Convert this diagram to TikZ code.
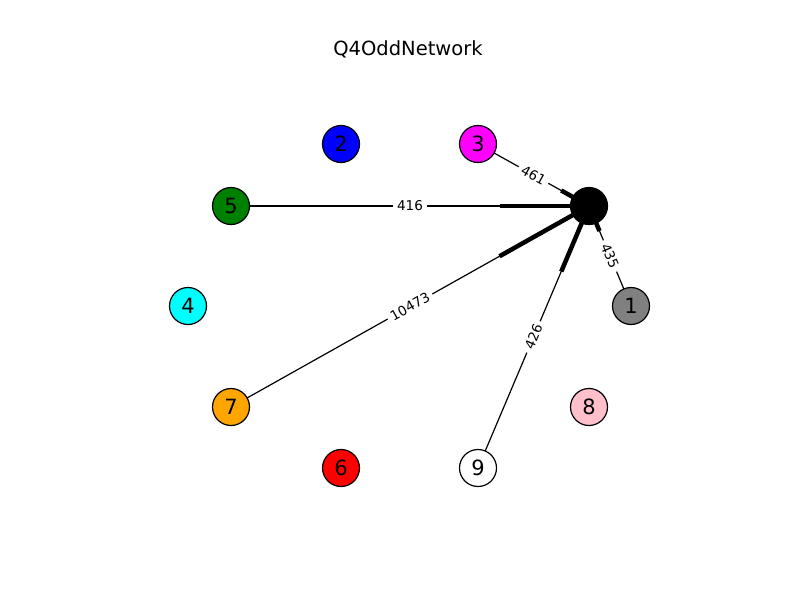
\documentclass[tikz,border=0pt]{standalone}
\usepackage{fontspec}
\setmainfont{DejaVu Sans}
\usetikzlibrary{calc}
\begin{document}
\begin{tikzpicture}[x=1pt,y=-1pt,
  vert/.style={circle,draw=black,line width=1.2pt,minimum size=37pt,inner sep=0pt,font=\fontsize{21}{25}\selectfont},
  edge/.style={draw=black,line width=1.2pt},
  arrowstub/.style={draw=black,line width=4.5pt},
  elabel/.style={fill=white,inner xsep=4pt,inner ysep=1pt,font=\fontsize{13.5}{16}\selectfont,sloped},
  ttl/.style={font=\fontsize{19.5}{23}\selectfont,anchor=base}]
\useasboundingbox (0,0) rectangle (800,597);
\fill[white] (0,0) rectangle (800,597);
% positions
\coordinate (p0) at (589,206);
\coordinate (p1) at (631,306);
\coordinate (p2) at (341,144);
\coordinate (p3) at (478,144);
\coordinate (p4) at (188,306);
\coordinate (p5) at (231,206);
\coordinate (p6) at (341,468);
\coordinate (p7) at (231,407);
\coordinate (p8) at (589,407);
\coordinate (p9) at (478,468);
% edges
\foreach \s in {3,5,1,7,9}{
  \draw[edge] (p\s) -- (p0);
  \draw[arrowstub] ($(p\s)!0.75!(p0)$) -- (p0);
}
% vertices
\node[vert,fill=black] (n0) at (p0) {};
\node[vert,fill={rgb,255:red,128;green,128;blue,128}] (n1) at (p1) {1};
\node[vert,fill={rgb,255:red,0;green,0;blue,255}] (n2) at (p2) {2};
\node[vert,fill={rgb,255:red,255;green,0;blue,255}] (n3) at (p3) {3};
\node[vert,fill={rgb,255:red,0;green,255;blue,255}] (n4) at (p4) {4};
\node[vert,fill={rgb,255:red,0;green,128;blue,0}] (n5) at (p5) {5};
\node[vert,fill={rgb,255:red,255;green,0;blue,0}] (n6) at (p6) {6};
\node[vert,fill={rgb,255:red,255;green,165;blue,0}] (n7) at (p7) {7};
\node[vert,fill={rgb,255:red,255;green,192;blue,203}] (n8) at (p8) {8};
\node[vert,fill=white] (n9) at (p9) {9};
% edge labels
\path (p3) -- node[elabel] (l3) {461} (p0);
\path (p5) -- node[elabel] (l5) {416} (p0);
\path (p1) -- node[elabel] (l1) {435} (p0);
\path (p7) -- node[elabel] (l7) {10473} (p0);
\path (p9) -- node[elabel] (l9) {426} (p0);
% title
\node[ttl] (title) at (408,55) {Q4OddNetwork};
\end{tikzpicture}
\end{document}
